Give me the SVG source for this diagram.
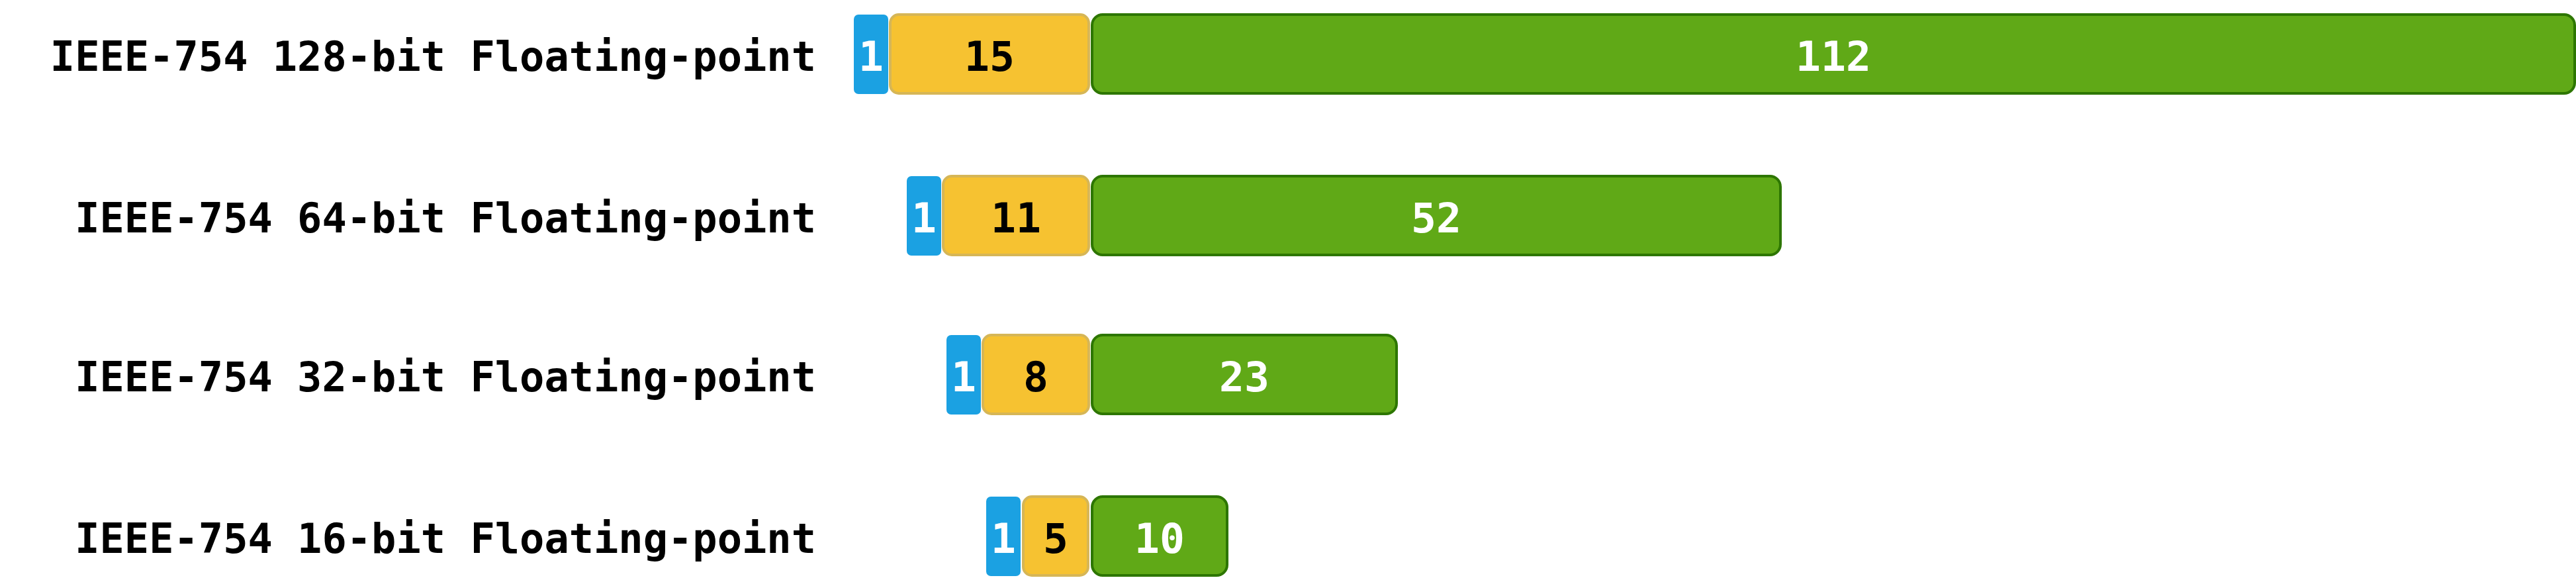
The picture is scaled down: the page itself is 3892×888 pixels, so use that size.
<svg xmlns="http://www.w3.org/2000/svg" width="3892" height="888" viewBox="0 0 3892 888">
<style>
  .lbl { font-family: "DejaVu Sans Mono", "Liberation Mono", monospace; font-weight: bold; font-size: 62px; fill: #000000; text-anchor: end; }
  .num { font-family: "DejaVu Sans Mono", "Liberation Mono", monospace; font-weight: bold; font-size: 63px; text-anchor: middle; }
  .sign { fill: #1ba1e2; stroke: none; }
  .exp { fill: #f6c231; stroke: #d6b656; stroke-width: 4; }
  .man { fill: #60a917; stroke: #2d7600; stroke-width: 4; }
  .w { fill: #ffffff; }
  .k { fill: #000000; }
</style>
<rect x="0" y="0" width="3892" height="888" fill="#ffffff"/>
<g id="row-128">
  <text class="lbl" x="1233" y="107">IEEE-754 128-bit Floating-point</text>
  <g id="sign-128"><rect class="sign" x="1290" y="22" width="52" height="120" rx="7"/><text class="num w" x="1316" y="107">1</text></g>
  <g id="exp-128"><rect class="exp" x="1345" y="22" width="300" height="119" rx="13"/><text class="num k" x="1495" y="107">15</text></g>
  <g id="man-128"><rect class="man" x="1650" y="22" width="2240" height="119" rx="16"/><text class="num w" x="2770" y="107">112</text></g>
</g>
<g id="row-64">
  <text class="lbl" x="1233" y="351">IEEE-754 64-bit Floating-point</text>
  <g id="sign-64"><rect class="sign" x="1370" y="266" width="52" height="120" rx="7"/><text class="num w" x="1396" y="351">1</text></g>
  <g id="exp-64"><rect class="exp" x="1425" y="266" width="220" height="119" rx="13"/><text class="num k" x="1535" y="351">11</text></g>
  <g id="man-64"><rect class="man" x="1650" y="266" width="1040" height="119" rx="16"/><text class="num w" x="2170" y="351">52</text></g>
</g>
<g id="row-32">
  <text class="lbl" x="1233" y="591">IEEE-754 32-bit Floating-point</text>
  <g id="sign-32"><rect class="sign" x="1430" y="506" width="52" height="120" rx="7"/><text class="num w" x="1456" y="591">1</text></g>
  <g id="exp-32"><rect class="exp" x="1485" y="506" width="160" height="119" rx="13"/><text class="num k" x="1565" y="591">8</text></g>
  <g id="man-32"><rect class="man" x="1650" y="506" width="460" height="119" rx="16"/><text class="num w" x="1880" y="591">23</text></g>
</g>
<g id="row-16">
  <text class="lbl" x="1233" y="835">IEEE-754 16-bit Floating-point</text>
  <g id="sign-16"><rect class="sign" x="1490" y="750" width="52" height="120" rx="7"/><text class="num w" x="1516" y="835">1</text></g>
  <g id="exp-16"><rect class="exp" x="1546" y="750" width="98" height="119" rx="13"/><text class="num k" x="1595" y="835">5</text></g>
  <g id="man-16"><rect class="man" x="1650" y="750" width="204" height="119" rx="16"/><text class="num w" x="1752" y="835">10</text></g>
</g>
<g id="connectors"></g>
</svg>
